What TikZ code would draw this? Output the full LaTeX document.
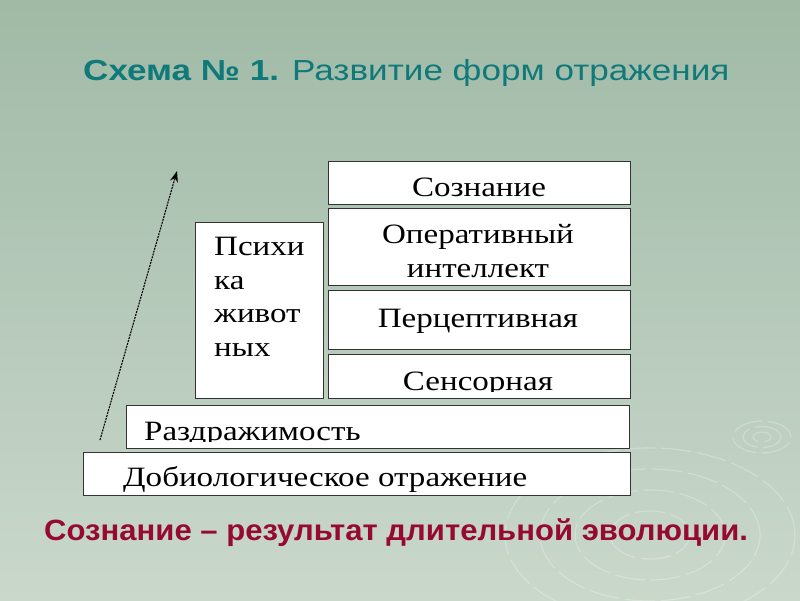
\documentclass[tikz,border=0pt]{standalone}
\usepackage{fontspec}
\setmainfont{Liberation Serif}
\newfontfamily\titlesans[FakeStretch=1.21]{Liberation Sans}
\newfontfamily\conclsans[FakeStretch=1.06]{Liberation Sans}
\newfontfamily\boxserif[FakeStretch=1.18]{Liberation Serif}
\usetikzlibrary{arrows.meta}
\definecolor{bgtop}{RGB}{160,186,166}
\definecolor{bgbot}{RGB}{202,216,204}
\definecolor{titleteal}{RGB}{16,122,122}
\definecolor{wine}{RGB}{150,10,50}
\begin{document}
\begin{tikzpicture}[x=1pt,y=-1pt,
  box/.style={draw=black!80, line width=1.3pt, fill=white, inner sep=0pt, anchor=north west},
  btxt/.style={font=\boxserif\fontsize{28}{33.5}\selectfont, inner sep=0pt, text=black},
  ripple/.style={draw=white, opacity=0.25, line width=1.2pt, dash pattern=on 30pt off 6pt}
]
\fill[top color=bgtop, bottom color=bgbot] (0,0) rectangle (800,600);
\useasboundingbox (0,0) rectangle (800,600);
% ripples
\foreach \r in {9,19,29} \draw[ripple] (762,437) ellipse ({\r pt} and {0.55*\r pt});
\foreach \r in {40,75,110,145} \draw[ripple] (650,535) ellipse ({\r pt} and {0.6*\r pt});
% title
\node[anchor=base west, inner sep=0pt, text=titleteal, font=\titlesans\fontsize{29}{34}\selectfont] (title) at (83,80) {\textbf{Схема № 1.} Развитие форм отражения};
% boxes
\node[box, minimum width=302pt, minimum height=43pt] (soz) at (328,161) {};
\node[box, minimum width=302pt, minimum height=77pt] (oper) at (328,208) {};
\node[box, minimum width=302pt, minimum height=59pt] (perc) at (328,290) {};
\node[box, minimum width=302pt, minimum height=44pt] (sens) at (328,354) {};
\node[box, minimum width=128pt, minimum height=176pt] (psy) at (195,222) {};
\node[box, minimum width=503pt, minimum height=43pt] (razd) at (126,405) {};
\node[box, minimum width=547pt, minimum height=43pt] (dobio) at (83,452) {};
% texts
\node[btxt, anchor=base] (tsoz) at (479,196) {Сознание};
\node[btxt, anchor=base] (toper1) at (478,243) {Оперативный};
\node[btxt, anchor=base] (toper2) at (478,277) {интеллект};
\node[btxt, anchor=base] (tperc) at (478,327) {Перцептивная};
\begin{scope}
  \clip (330,356) rectangle (628,391);
  \node[btxt, anchor=base] (tsens) at (478,390) {Сенсорная};
\end{scope}
\node[btxt, anchor=base west, align=left] (tpsy) at (214,356) {Психи\\ка\\живот\\ных};
\begin{scope}
  \clip (128,407) rectangle (627,441);
  \node[btxt, anchor=base west] (trazd) at (144,440) {Раздражимость};
\end{scope}
\node[btxt, anchor=base west] (tdobio) at (123,486) {Добиологическое отражение};
% arrow
\coordinate (a0) at (100,440);
\coordinate (a1) at (177,171);
\draw[line width=1.1pt, dash pattern=on 2pt off 1pt, -{Stealth[length=11pt,width=8pt]}] (a0) -- (a1);
% conclusion
\node[anchor=base west, inner sep=0pt, text=wine, font=\conclsans\bfseries\fontsize{29.3}{34}\selectfont] (concl) at (44,540) {Сознание – результат длительной эволюции.};
\end{tikzpicture}
\end{document}
